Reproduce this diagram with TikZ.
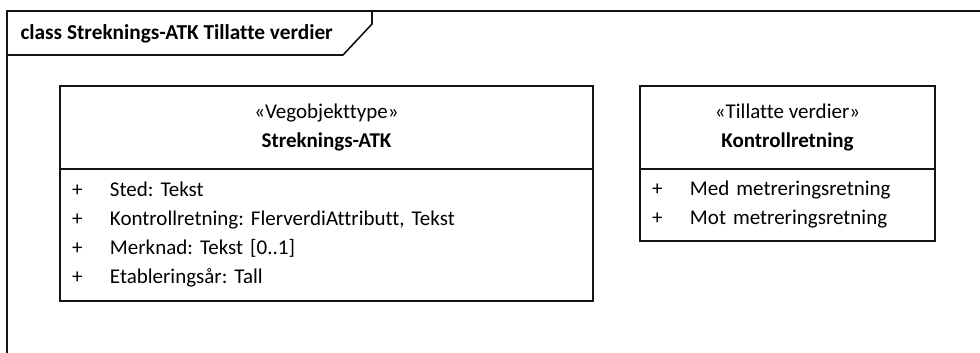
\documentclass[tikz,border=0pt]{standalone}
\usepackage{fontspec}
\setmainfont{Carlito}[Ligatures=NoCommon]
\usetikzlibrary{positioning}
\definecolor{umlline}{RGB}{20,20,20}
\newcommand{\umlattr}[1]{\makebox[38pt][l]{+}#1}
\frenchspacing

\begin{document}
\begin{tikzpicture}[x=1pt, y=-1pt,
    every node/.style={font=\fontsize{21}{29}\selectfont, text=black},
    umlhead/.style={draw=umlline, line width=1.6pt, outer sep=0pt, anchor=north west, minimum height=83pt, align=center},
    umlbody/.style={draw=umlline, line width=1.6pt, outer sep=0pt, anchor=north west, align=left, inner xsep=12pt}]
    \useasboundingbox (0,0) rectangle (980,353);

    % Diagram frame with its name tab
    \draw[umlline, line width=1.6pt] (7,353) -- (7,11) -- (980,11);
    \draw[umlline, line width=1.6pt] (7,55) -- (343,55) -- (372,24) -- (372,11);
    \node[anchor=base west, font=\bfseries\fontsize{21.3}{25}\selectfont] (frametitle) at (17,40) {class Streknings-ATK Tillatte verdier};

    % Class Streknings-ATK
    \node[umlhead, minimum width=533pt] (atkhead) at (60,86) {«Vegobjekttype»\\\textbf{Streknings-ATK}};
    \node[umlbody, text width=509pt, minimum height=132pt] (atkbody) at (atkhead.south west) {%
        \umlattr{Sted: Tekst}\\
        \umlattr{Kontrollretning: FlerverdiAttributt, Tekst}\\
        \umlattr{Merknad: Tekst [0..1]}\\
        \umlattr{Etableringsår: Tall}};

    % Tillatte verdier Kontrollretning
    \node[umlhead, minimum width=295pt] (retnhead) at (640,86) {«Tillatte verdier»\\\textbf{Kontrollretning}};
    \node[umlbody, text width=271pt, minimum height=72pt] (retnbody) at (retnhead.south west) {%
        \umlattr{Med metreringsretning}\\
        \umlattr{Mot metreringsretning}};
\end{tikzpicture}
\end{document}
